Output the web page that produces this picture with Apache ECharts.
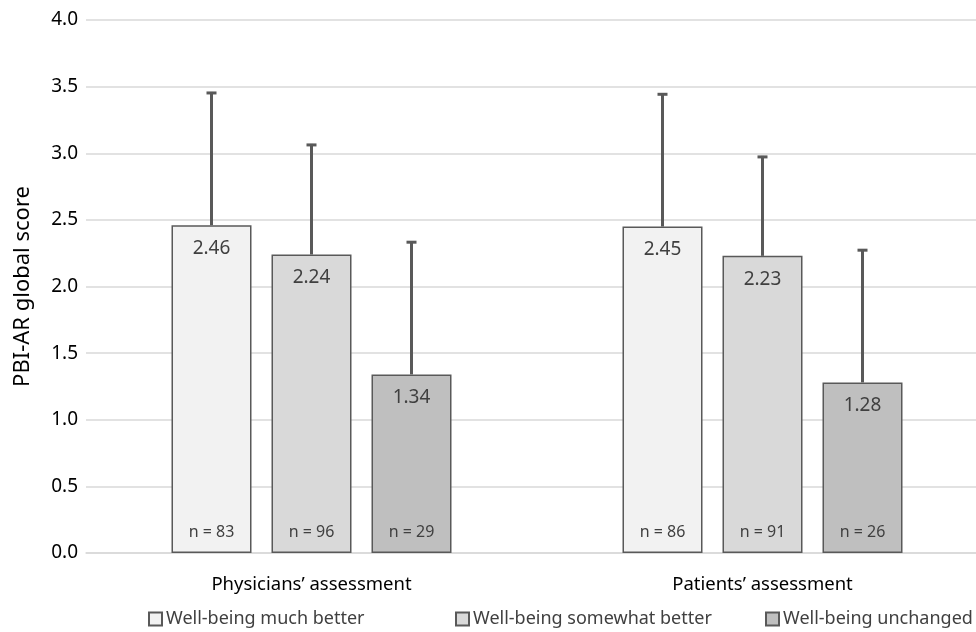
<!DOCTYPE html>
<html>
<head>
<meta charset="utf-8">
<script src="https://cdn.jsdelivr.net/npm/echarts@6/dist/echarts.min.js"></script>
<style>
  html, body { margin: 0; padding: 0; background: #fff; }
  #chart { width: 976px; height: 632px; }
</style>
</head>
<body>
<div id="chart"></div>
<script>
// data
const categories = ['Physicians’ assessment', 'Patients’ assessment']
const seriesNames = ['Well-being much better', 'Well-being somewhat better', 'Well-being unchanged']
const meanMuchBetter = [2.46, 2.45]
const meanSomewhatBetter = [2.24, 2.23]
const meanUnchanged = [1.34, 1.28]
const sdTopMuchBetter = [3.46, 3.45]
const sdTopSomewhatBetter = [3.07, 2.98]
const sdTopUnchanged = [2.34, 2.28]
const nMuchBetter = [83, 86]
const nSomewhatBetter = [96, 91]
const nUnchanged = [29, 26]

const means = [meanMuchBetter, meanSomewhatBetter, meanUnchanged]
const sdTops = [sdTopMuchBetter, sdTopSomewhatBetter, sdTopUnchanged]
const counts = [nMuchBetter, nSomewhatBetter, nUnchanged]
const fills = ['#f2f2f2', '#d9d9d9', '#bfbfbf']
const legendLeft = [143, 450, 760]

const font = '"Noto Sans", "Open Sans", sans-serif'
const textColor = '#404040'
const barWidth = 80
const barGap = 0.25

const chart = echarts.init(document.getElementById('chart'))

const barSeries = means.map((vals, i) => ({
  name: seriesNames[i],
  type: 'bar',
  data: vals,
  barWidth: barWidth,
  barGap: (barGap * 100) + '%',
  itemStyle: { color: fills[i], borderColor: '#595959', borderWidth: 1.5 },
  label: {
    show: true,
    position: 'insideTop',
    distance: 14,
    fontFamily: font,
    fontSize: 19,
    color: textColor,
    formatter: p => p.value.toFixed(2)
  },
  z: 2
}))

// error bars + n labels, drawn at the bar positions
const errSeries = means.map((vals, i) => ({
  type: 'custom',
  name: seriesNames[i] + ' err',
  data: vals.map((v, k) => [k, v, sdTops[i][k], counts[i][k]]),
  encode: { x: 0, y: [1, 2] },
  z: 5,
  silent: true,
  renderItem: (params, api) => {
    const off = (i - 1) * barWidth * (1 + barGap)
    const top = api.coord([api.value(0), api.value(1)])
    const hi = api.coord([api.value(0), api.value(2)])
    const base = api.coord([api.value(0), 0])
    const x = top[0] + off
    const st = { stroke: '#595959', lineWidth: 3 }
    return {
      type: 'group',
      children: [
        { type: 'line', shape: { x1: x, y1: top[1], x2: x, y2: hi[1] }, style: st },
        { type: 'line', shape: { x1: x - 5, y1: hi[1] + 1, x2: x + 5, y2: hi[1] + 1 }, style: st },
        {
          type: 'text',
          style: {
            text: 'n = ' + api.value(3),
            x: x, y: base[1] - 21,
            align: 'center', verticalAlign: 'middle',
            fontFamily: font, fontSize: 16, fill: textColor
          }
        }
      ]
    }
  }
}))

// one legend per series, placed like the original
const legends = seriesNames.map((name, i) => ({
  data: [name],
  top: 605,
  left: legendLeft[i],
  icon: 'rect',
  itemWidth: 13,
  itemHeight: 13,
  textStyle: { fontFamily: font, fontSize: 18, color: textColor, padding: [0, 0, 0, -1] }
}))

chart.setOption({
  animation: false,
  grid: { left: 86, width: 902, top: 20, bottom: 79, containLabel: false, outerBoundsMode: 'none' },
  legend: legends,
  xAxis: {
    type: 'category',
    data: categories,
    axisLine: { lineStyle: { color: '#d9d9d9', width: 1.5 } },
    axisTick: { show: false },
    axisLabel: { margin: 22, fontFamily: font, fontSize: 18.5, color: '#000' }
  },
  yAxis: {
    type: 'value',
    min: 0,
    max: 4,
    interval: 0.5,
    name: 'PBI-AR global score',
    nameLocation: 'middle',
    nameGap: 52,
    nameTextStyle: { fontFamily: font, fontSize: 22, color: '#000' },
    axisLine: { show: false },
    axisTick: { show: false },
    axisLabel: {
      margin: 8,
      fontFamily: font,
      fontSize: 19,
      color: '#000',
      formatter: v => v.toFixed(1)
    },
    splitLine: { lineStyle: { color: '#d9d9d9', width: 1.5 } }
  },
  series: [...barSeries, ...errSeries]
})
</script>
</body>
</html>
